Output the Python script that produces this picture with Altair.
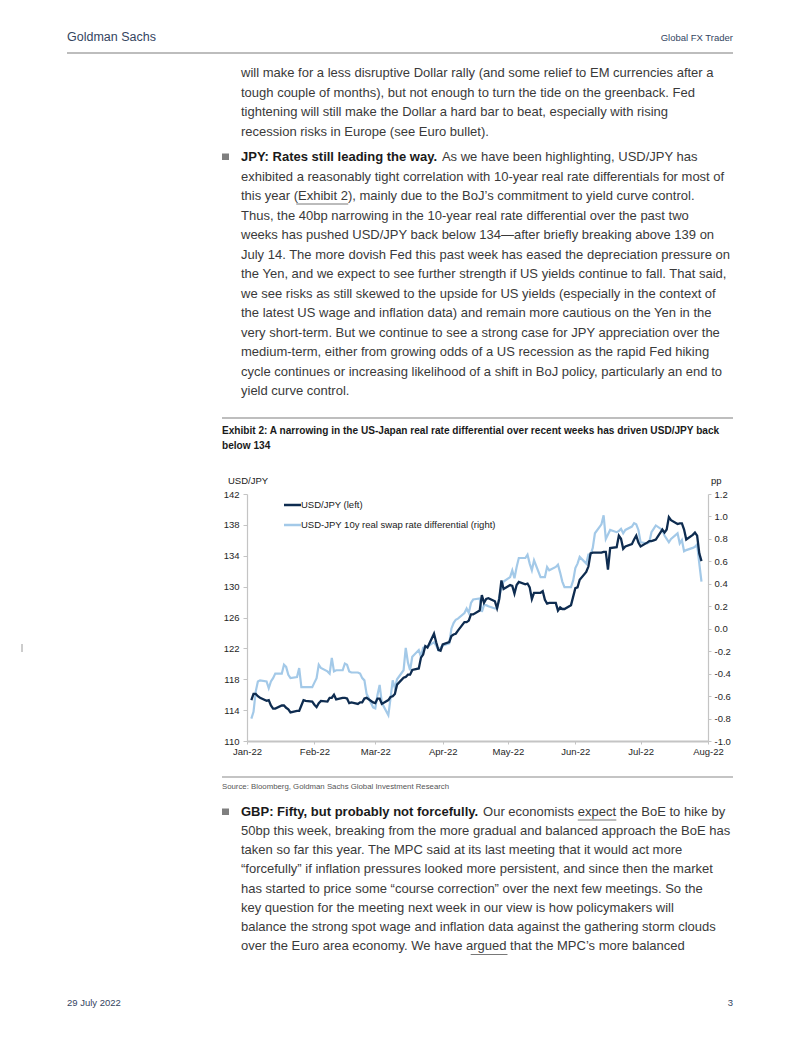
import altair as alt
import pandas as pd

# ---------------- data ----------------
usd_dates = [
    "2022/01/03", "2022/01/04", "2022/01/05", "2022/01/06", "2022/01/07", "2022/01/10", "2022/01/11",
    "2022/01/12", "2022/01/13", "2022/01/14", "2022/01/17", "2022/01/18", "2022/01/19", "2022/01/20",
    "2022/01/21", "2022/01/24", "2022/01/25", "2022/01/26", "2022/01/27", "2022/01/28", "2022/01/31",
    "2022/02/01", "2022/02/02", "2022/02/03", "2022/02/04", "2022/02/07", "2022/02/08", "2022/02/09",
    "2022/02/10", "2022/02/11", "2022/02/14", "2022/02/15", "2022/02/16", "2022/02/17", "2022/02/18",
    "2022/02/21", "2022/02/22", "2022/02/23", "2022/02/24", "2022/02/25", "2022/02/28", "2022/03/01",
    "2022/03/02", "2022/03/03", "2022/03/04", "2022/03/07", "2022/03/08", "2022/03/09", "2022/03/10",
    "2022/03/11", "2022/03/14", "2022/03/15", "2022/03/16", "2022/03/17", "2022/03/18", "2022/03/21",
    "2022/03/22", "2022/03/23", "2022/03/24", "2022/03/25", "2022/03/28", "2022/03/29", "2022/03/30",
    "2022/03/31", "2022/04/01", "2022/04/04", "2022/04/05", "2022/04/06", "2022/04/07", "2022/04/08",
    "2022/04/11", "2022/04/12", "2022/04/13", "2022/04/14", "2022/04/15", "2022/04/18", "2022/04/19",
    "2022/04/20", "2022/04/21", "2022/04/22", "2022/04/25", "2022/04/26", "2022/04/27", "2022/04/28",
    "2022/04/29", "2022/05/02", "2022/05/03", "2022/05/04", "2022/05/05", "2022/05/06", "2022/05/09",
    "2022/05/10", "2022/05/11", "2022/05/12", "2022/05/13", "2022/05/16", "2022/05/17", "2022/05/18",
    "2022/05/19", "2022/05/20", "2022/05/23", "2022/05/24", "2022/05/25", "2022/05/26", "2022/05/27",
    "2022/05/30", "2022/05/31", "2022/06/01", "2022/06/02", "2022/06/03", "2022/06/06", "2022/06/07",
    "2022/06/08", "2022/06/09", "2022/06/10", "2022/06/13", "2022/06/14", "2022/06/15", "2022/06/16",
    "2022/06/17", "2022/06/20", "2022/06/21", "2022/06/22", "2022/06/23", "2022/06/24", "2022/06/27",
    "2022/06/28", "2022/06/29", "2022/06/30", "2022/07/01", "2022/07/04", "2022/07/05", "2022/07/06",
    "2022/07/07", "2022/07/08", "2022/07/11", "2022/07/12", "2022/07/13", "2022/07/14", "2022/07/15",
    "2022/07/18", "2022/07/19", "2022/07/20", "2022/07/21", "2022/07/22", "2022/07/25", "2022/07/26",
    "2022/07/27", "2022/07/28", "2022/07/29",
]
usd_vals = [
    115.3, 116.1, 116.1, 115.8, 115.6, 115.2, 115.3,
    114.6, 114.2, 114.2, 114.6, 114.6, 114.3, 114.1,
    113.7, 113.9, 113.9, 114.6, 115.3, 115.2, 115.1,
    114.7, 114.4, 114.9, 115.2, 115.1, 115.6, 115.6,
    116.0, 115.4, 115.6, 115.6, 115.5, 114.9, 115.0,
    114.8, 115.0, 115.0, 115.5, 115.6, 115.0, 114.9,
    115.5, 115.5, 114.8, 115.3, 115.7, 115.8, 116.1,
    117.3, 118.2, 118.3, 118.6, 118.6, 119.2, 119.4,
    120.8, 121.2, 122.3, 122.1, 123.9, 122.8, 121.8,
    121.7, 122.5, 122.8, 123.6, 123.8, 123.9, 124.3,
    125.4, 125.4, 125.6, 126.4, 126.4, 126.9, 128.9,
    127.9, 128.4, 128.5, 128.1, 127.2, 128.4, 130.8,
    129.7, 130.2, 130.1, 129.1, 130.2, 130.6, 130.3,
    130.4, 129.9, 128.4, 129.2, 129.2, 129.4, 128.3,
    127.8, 127.9, 127.9, 126.9, 127.3, 127.1, 127.1,
    127.6, 128.7, 129.8, 129.9, 130.9, 131.9, 132.6,
    134.3, 134.4, 134.4, 134.4, 134.5, 134.5, 132.2,
    135.0, 135.1, 136.6, 136.2, 134.9, 135.2, 135.5,
    136.1, 136.6, 135.7, 135.2, 135.7, 135.9, 135.9,
    136.0, 136.1, 137.4, 137.0, 137.4, 139.0, 138.6,
    138.1, 138.2, 138.2, 137.4, 136.1, 136.7, 137.0,
    136.6, 134.3, 133.3,
]

diff_dates = list(usd_dates)
diff_vals = [
    -0.80, -0.74, -0.56, -0.47, -0.46, -0.47, -0.53,
    -0.47, -0.44, -0.40, -0.40, -0.32, -0.34, -0.41,
    -0.44, -0.43, -0.35, -0.52, -0.52, -0.52, -0.52,
    -0.48, -0.44, -0.32, -0.35, -0.38, -0.40, -0.26,
    -0.38, -0.37, -0.37, -0.31, -0.32, -0.38, -0.39,
    -0.39, -0.40, -0.44, -0.46, -0.58, -0.70, -0.71,
    -0.59, -0.50, -0.66, -0.77, -0.62, -0.46, -0.53,
    -0.45, -0.37, -0.17, -0.30, -0.37, -0.25, -0.19,
    -0.25, -0.17, -0.16, -0.16, -0.12, -0.15, -0.19,
    -0.17, -0.15, -0.13, 0.00, 0.05, 0.08, 0.09,
    0.14, 0.18, 0.14, 0.23, 0.26, 0.27, 0.15,
    0.21, 0.21, 0.20, 0.18, 0.18, 0.28, 0.37,
    0.42, 0.46, 0.52, 0.45, 0.55, 0.63, 0.63,
    0.66, 0.58, 0.52, 0.61, 0.46, 0.46, 0.46,
    0.55, 0.52, 0.55, 0.57, 0.50, 0.42, 0.37,
    0.37, 0.43, 0.54, 0.58, 0.64, 0.58, 0.66,
    0.66, 0.72, 0.85, 0.93, 1.01, 0.80, 0.84,
    0.88, 0.86, 0.87, 0.89, 0.85, 0.88, 0.91,
    0.94, 0.93, 0.88, 0.77, 0.76, 0.77, 0.86,
    0.89, 0.92, 0.88, 0.83, 0.80, 0.77, 0.80,
    0.85, 0.76, 0.79, 0.69, 0.70, 0.72, 0.73,
    0.75, 0.58, 0.42,
]

left_ticks = [110, 114, 118, 122, 126, 130, 134, 138, 142]
right_ticks = [-1.0, -0.8, -0.6, -0.4, -0.2, 0.0, 0.2, 0.4, 0.6, 0.8, 1.0, 1.2]
month_ticks = [1, 2, 3, 4, 5, 6, 7, 8]

series_names = ["USD/JPY (left)", "USD-JPY 10y real swap rate differential (right)"]

header_left = "Goldman Sachs"
header_right = "Global FX Trader"
footer_left = "29 July 2022"
footer_right = "3"

para1 = [
    "will make for a less disruptive Dollar rally (and some relief to EM currencies after a",
    "tough couple of months), but not enough to turn the tide on the greenback. Fed",
    "tightening will still make the Dollar a hard bar to beat, especially with rising",
    "recession risks in Europe (see Euro bullet).",
]
jpy_bold = "JPY: Rates still leading the way."
jpy_lines = [
    "As we have been highlighting, USD/JPY has",
    "exhibited a reasonably tight correlation with 10-year real rate differentials for most of",
    "this year (Exhibit 2), mainly due to the BoJ\u2019s commitment to yield curve control.",
    "Thus, the 40bp narrowing in the 10-year real rate differential over the past two",
    "weeks has pushed USD/JPY back below 134\u2014after briefly breaking above 139 on",
    "July 14. The more dovish Fed this past week has eased the depreciation pressure on",
    "the Yen, and we expect to see further strength if US yields continue to fall. That said,",
    "we see risks as still skewed to the upside for US yields (especially in the context of",
    "the latest US wage and inflation data) and remain more cautious on the Yen in the",
    "very short-term. But we continue to see a strong case for JPY appreciation over the",
    "medium-term, either from growing odds of a US recession as the rapid Fed hiking",
    "cycle continues or increasing likelihood of a shift in BoJ policy, particularly an end to",
    "yield curve control.",
]
exhibit_title = [
    "Exhibit 2: A narrowing in the US-Japan real rate differential over recent weeks has driven USD/JPY back",
    "below 134",
]
source_text = "Source: Bloomberg, Goldman Sachs Global Investment Research"
gbp_bold = "GBP: Fifty, but probably not forcefully."
gbp_lines = [
    "Our economists expect the BoE to hike by",
    "50bp this week, breaking from the more gradual and balanced approach the BoE has",
    "taken so far this year. The MPC said at its last meeting that it would act more",
    "\u201cforcefully\u201d if inflation pressures looked more persistent, and since then the market",
    "has started to price some \u201ccourse correction\u201d over the next few meetings. So the",
    "key question for the meeting next week in our view is how policymakers will",
    "balance the strong spot wage and inflation data against the gathering storm clouds",
    "over the Euro area economy. We have argued that the MPC\u2019s more balanced",
]

# ---------------- layout ----------------
OX, OY = 247, 494          # page position of the plot area's top-left
W, H = 461, 247
PAGE_W, PAGE_H = 786, 1021
DARK = "#0e2c50"
LIGHT = "#a3c9e8"
FONT = "Liberation Sans"
TXT = "#3a3a3a"
NAVY = "#34455f"
BODY_SIZE = 13


def px(x):
    return x - OX


def py(y):
    return y - OY


def text_layer(rows, **kw):
    df = pd.DataFrame(rows, columns=["x", "y", "t"])
    base = dict(align="left", baseline="middle", font=FONT)
    base.update(kw)
    return alt.Chart(df).mark_text(**base).encode(
        x=alt.X("x:Q", scale=None, axis=None),
        y=alt.Y("y:Q", scale=None, axis=None),
        text="t:N",
    )


def rule(x1, x2, y1, y2, color, width):
    return alt.Chart(pd.DataFrame({"k": [0]})).mark_rule(color=color, strokeWidth=width).encode(
        x=alt.value(px(x1)), x2=alt.value(px(x2)), y=alt.value(py(y1)), y2=alt.value(py(y2))
    )


def box(x1, x2, y1, y2, color):
    return alt.Chart(pd.DataFrame({"k": [0]})).mark_rect(color=color).encode(
        x=alt.value(px(x1)), x2=alt.value(px(x2)), y=alt.value(py(y1)), y2=alt.value(py(y2))
    )


# ---------------- chart ----------------
usd_df = pd.DataFrame({"date": usd_dates, "v": usd_vals})
diff_df = pd.DataFrame({"date": diff_dates, "v": diff_vals})

xdomain = [alt.DateTime(year=2022, month=1, date=1), alt.DateTime(year=2022, month=8, date=1)]
xscale = alt.Scale(domain=xdomain)
axis_common = dict(
    domainColor="#c4c4c4", tickColor="#c4c4c4", labelColor="#262626",
    labelFont=FONT, labelFontSize=9.5, grid=False, title=None,
)

light_line = alt.Chart(diff_df).mark_line(color=LIGHT, strokeWidth=2.2).encode(
    x=alt.X("date:T", scale=xscale, axis=None),
    y=alt.Y("v:Q", scale=alt.Scale(domain=[-1.0, 1.2], nice=False, zero=False),
            axis=alt.Axis(orient="right", values=right_ticks, tickSize=3, labelPadding=3,
                          domainWidth=1.2,
                          labelExpr="datum.value < -0.001 ? '-' + format(abs(datum.value), '.1f') : format(datum.value, '.1f')",
                          **axis_common)),
)

dark_line = alt.Chart(usd_df).mark_line(color=DARK, strokeWidth=2.3).encode(
    x=alt.X("date:T", scale=xscale,
            axis=alt.Axis(values=[alt.DateTime(year=2022, month=m, date=1) for m in month_ticks],
                          format="%b-%y", tickSize=3, labelPadding=2, domainWidth=2.2,
                          labelFlush=False, **axis_common)),
    y=alt.Y("v:Q", scale=alt.Scale(domain=[110, 142], nice=False, zero=False),
            axis=alt.Axis(orient="left", values=left_ticks, tickSize=4, labelPadding=4,
                          domainWidth=1.2, format="d", **axis_common)),
)

layers = [light_line, dark_line]

# legend
layers.append(rule(284, 301, 505, 505, DARK, 2.5))
layers.append(rule(284, 301, 525, 525, LIGHT, 2.5))
layers.append(text_layer([(px(301), py(505), series_names[0]),
                          (px(301), py(525), series_names[1])],
                         fontSize=9.5, color="#1a1a1a"))
# axis titles
layers.append(text_layer([(px(228), py(481), "USD/JPY"), (px(711), py(481), "pp")],
                         fontSize=9.5, color="#1a1a1a"))

# header / footer
layers.append(text_layer([(px(67), py(37), header_left)], fontSize=12.5, color=NAVY))
layers.append(text_layer([(px(733), py(38), header_right)], fontSize=9.5,
                         color=NAVY, align="right"))
layers.append(rule(67, 733, 53, 53, "#bdbdbd", 2))
layers.append(text_layer([(px(67), py(1003), footer_left)], fontSize=9.5, color=NAVY))
layers.append(text_layer([(px(733), py(1003), footer_right)], fontSize=9.5,
                         color=NAVY, align="right"))

# body paragraphs
k = BODY_SIZE / 12.0
jpy_rest_x = 241 + 179 * k + 7
gbp_rest_x = 241 + 217 * k + 7
body_rows = [(px(241), py(73 + 19.5 * i), s) for i, s in enumerate(para1)]
body_rows.append((px(jpy_rest_x), py(157), jpy_lines[0]))
body_rows += [(px(241), py(157 + 19.5 * i), s) for i, s in enumerate(jpy_lines) if i > 0]
body_rows.append((px(gbp_rest_x), py(812), gbp_lines[0]))
body_rows += [(px(241), py(812 + 19.15 * i), s) for i, s in enumerate(gbp_lines) if i > 0]
layers.append(text_layer(body_rows, fontSize=BODY_SIZE, color=TXT))
layers.append(text_layer([(px(241), py(157), jpy_bold), (px(241), py(812), gbp_bold)],
                         fontSize=BODY_SIZE, fontWeight="bold", color="#1a1a1a"))
# bullets
layers.append(box(222, 229, 153.5, 160, "#7f7f7f"))
layers.append(box(222, 229, 808.5, 815, "#7f7f7f"))
# underlined links
layers.append(rule(241 + 51 * k, 241 + 99 * k, 204, 204, "#555555", 0.8))
layers.append(rule(gbp_rest_x + 87.4 * k, gbp_rest_x + 123 * k, 820, 820, "#555555", 0.8))
layers.append(rule(241 + 212 * k, 241 + 246 * k, 954.5, 954.5, "#555555", 0.8))

# exhibit frame
layers.append(rule(222, 733, 418, 418, "#a9a9a9", 1.5))
layers.append(text_layer([(px(222), py(431 + 15 * i), s) for i, s in enumerate(exhibit_title)],
                         fontSize=10.1, fontWeight="bold", color="#1a1a1a"))
layers.append(rule(222, 733, 777, 777, "#c4c4c4", 2))
layers.append(text_layer([(px(222), py(787), source_text)], fontSize=7.8, color="#555555"))
# small margin mark
layers.append(rule(22, 22, 644, 652, "#9a9a9a", 1))

chart = alt.layer(*layers).resolve_scale(x="independent", y="independent").properties(
    width=W, height=H,
    autosize=alt.AutoSizeParams(type="none"),
    padding={"left": OX - 8, "top": OY - 8, "right": PAGE_W - (OX - 8) - W,
             "bottom": PAGE_H - (OY - 8) - H},
    background="white",
).configure_view(stroke=None)

chart.save("out.html", embed_options={"renderer": "svg", "actions": False})
